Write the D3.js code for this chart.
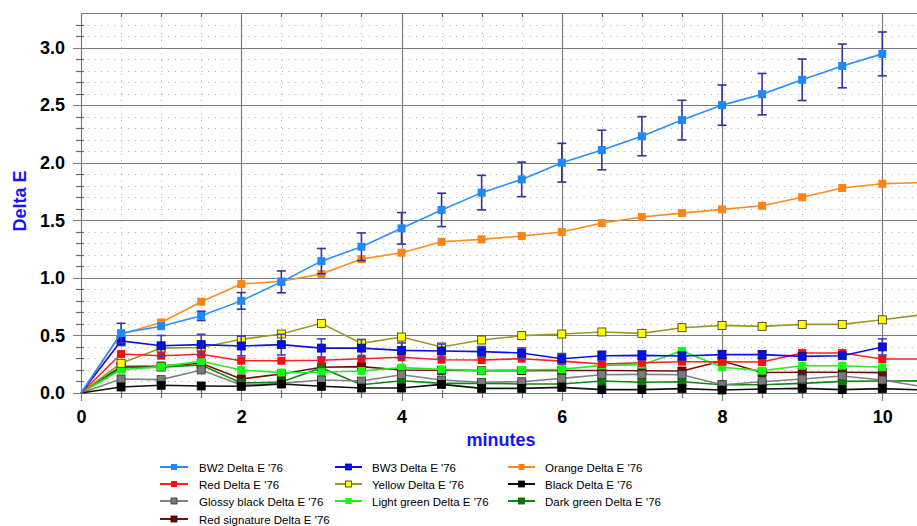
<!DOCTYPE html>
<html>
<head>
<meta charset="utf-8">
<script src="https://cdn.jsdelivr.net/npm/d3@7"></script>
<style>
  html, body { margin: 0; padding: 0; background: #fff; }
  svg { display: block; }
  text { font-family: "Liberation Sans", Arial, sans-serif; }
</style>
</head>
<body>
<svg id="chart" width="917" height="526"></svg>
<script>
// ---------- data ----------
const minutes = [0,0.5,1,1.5,2,2.5,3,3.5,4,4.5,5,5.5,6,6.5,7,7.5,8,8.5,9,9.5,10,10.5];

const bw2      = [0,0.52,0.58,0.67,0.80,0.965,1.145,1.27,1.43,1.59,1.74,1.855,2.0,2.11,2.23,2.37,2.5,2.595,2.72,2.84,2.945,null];
const bw2Err   = [0,0.085,0.02,0.04,0.072,0.095,0.11,0.12,0.137,0.145,0.15,0.15,0.168,0.172,0.17,0.172,0.175,0.18,0.18,0.19,0.19,null];
const bw3      = [0,0.452,0.41,0.42,0.408,0.42,0.39,0.39,0.37,0.365,0.359,0.347,0.298,0.324,0.327,0.321,0.333,0.333,0.318,0.324,0.40,null];
const bw3Err   = [0,0.04,0.09,0.09,0.085,0.09,0.08,0.075,0.065,0.06,0.045,0.045,0.045,0.04,0.04,0.035,0.035,0.033,0.02,0.025,0.07,null];
const orange   = [0,0.51,0.613,0.793,0.946,0.97,1.033,1.163,1.218,1.313,1.334,1.363,1.398,1.476,1.528,1.562,1.595,1.626,1.70,1.78,1.817,1.827];
const red      = [0,0.339,0.324,0.336,0.28,0.28,0.284,0.298,0.31,0.289,0.286,0.298,0.277,0.252,0.263,0.272,0.272,0.269,0.347,0.347,0.295,0.295];
const yellow   = [0,0.258,0.39,0.395,0.466,0.512,0.605,0.431,0.486,0.40,0.46,0.498,0.512,0.53,0.518,0.567,0.587,0.579,0.596,0.596,0.636,0.68];
const black    = [0,0.052,0.067,0.061,0.058,0.078,0.058,0.043,0.043,0.075,0.04,0.04,0.049,0.029,0.029,0.038,0.026,0.035,0.04,0.029,0.038,0.026];
const glossy   = [0,0.122,0.116,0.20,0.069,0.084,0.113,0.104,0.159,0.113,0.093,0.098,0.127,0.159,0.162,0.159,0.072,0.098,0.122,0.148,0.113,0.055];
const lightGrn = [0,0.202,0.229,0.275,0.20,0.177,0.18,0.191,0.22,0.205,0.194,0.20,0.205,0.24,0.246,0.365,0.223,0.194,0.237,0.237,0.223,null];
const darkGrn  = [0,0.22,0.225,0.243,0.087,0.095,0.218,0.072,0.107,0.084,0.084,0.078,0.078,0.104,0.093,0.098,0.072,0.072,0.084,0.101,0.104,0.105];
const redSig   = [0,0.229,0.234,0.258,0.122,0.165,0.223,0.229,0.20,0.197,0.194,0.194,0.195,0.195,0.193,0.191,0.278,0.178,0.18,0.18,0.177,null];

const seriesNames = ["BW2 Delta E '76","BW3 Delta E '76","Orange Delta E '76",
                     "Red Delta E '76","Yellow Delta E '76","Black Delta E '76",
                     "Glossy black Delta E '76","Light green Delta E '76","Dark green Delta E '76",
                     "Red signature Delta E '76"];
const seriesValues = [bw2, bw3, orange, red, yellow, black, glossy, lightGrn, darkGrn, redSig];
const seriesErrors = [bw2Err, bw3Err, null, null, null, null, null, null, null, null];

const yTickLabels = [0, 0.5, 1.0, 1.5, 2.0, 2.5, 3.0];
const xTickLabels = [0, 2, 4, 6, 8, 10];
const xTitle = "minutes";
const yTitle = "Delta E";

// ---------- styles ----------
const lineColors   = ["#2A8CFF","#1010E0","#FF8A20","#FF2020","#999926","#101010","#808080","#22EE22","#108810","#7A0A0A"];
const markerFills  = ["#1E88FF","#0010F0","#FF8418","#FF0A0A","#FFFF00","#000000","#7A7A7A","#10FF10","#0A7A0A","#7A0000"];
const markerStroke = [null,"#101060",null,null,"#303010","#000",  "#333333",null,"#0A5A0A","#300000"];
const errColors    = ["#33339A","#4040C8"];

// ---------- scales ----------
const svg = d3.select("#chart");
const x = d3.scaleLinear().domain([0, 10.5]).range([81, 81 + 10.5 * 80.13]);
const y = d3.scaleLinear().domain([0, 3.3]).range([393, 13]);
const xR = 917;

svg.append("rect").attr("width", 917).attr("height", 526).attr("fill", "#fff");

const grid = svg.append("g");
// minor dotted horizontal
d3.range(1, 33).filter(i => i % 5 !== 0).forEach(i => {
  const v = i / 10;
  grid.append("line").attr("x1", x(0)).attr("x2", xR)
    .attr("y1", Math.round(y(v)) + 0.5).attr("y2", Math.round(y(v)) + 0.5)
    .attr("stroke", "#a8a8a8").attr("stroke-dasharray", "1,5.7").attr("stroke-width", 1);
});
// minor dotted vertical
d3.range(1, 22).filter(i => i % 4 !== 0).forEach(i => {
  const v = i / 2;
  grid.append("line").attr("y1", y(3.3)).attr("y2", y(0))
    .attr("x1", Math.round(x(v)) + 0.5).attr("x2", Math.round(x(v)) + 0.5)
    .attr("stroke", "#a8a8a8").attr("stroke-dasharray", "1,5.7").attr("stroke-width", 1);
});
// major horizontal
yTickLabels.forEach(v => {
  grid.append("line").attr("x1", 73).attr("x2", xR)
    .attr("y1", Math.round(y(v)) + 0.5).attr("y2", Math.round(y(v)) + 0.5)
    .attr("stroke", "#7c7c7c").attr("stroke-width", 1.2);
});
// major vertical
xTickLabels.forEach(v => {
  grid.append("line").attr("y1", y(3.3)).attr("y2", 401)
    .attr("x1", Math.round(x(v)) + 0.5).attr("x2", Math.round(x(v)) + 0.5)
    .attr("stroke", "#7c7c7c").attr("stroke-width", 1.2);
});
// top frame
grid.append("line").attr("x1", x(0)).attr("x2", xR)
  .attr("y1", Math.round(y(3.3)) + 0.5).attr("y2", Math.round(y(3.3)) + 0.5)
  .attr("stroke", "#7c7c7c").attr("stroke-width", 1.2);

// minor ticks (y) crossing the axis
d3.range(1, 33).filter(i => i % 5 !== 0).forEach(i => {
  const v = i / 10;
  grid.append("line").attr("x1", 76).attr("x2", 84)
    .attr("y1", Math.round(y(v)) + 0.5).attr("y2", Math.round(y(v)) + 0.5)
    .attr("stroke", "#666").attr("stroke-width", 1.2);
});
// minor ticks (x) bottom and top
d3.range(1, 22).filter(i => i % 4 !== 0).forEach(i => {
  const v = i / 2;
  const xx = Math.round(x(v)) + 0.5;
  grid.append("line").attr("x1", xx).attr("x2", xx).attr("y1", 390).attr("y2", 398)
    .attr("stroke", "#666").attr("stroke-width", 1.2);
  grid.append("line").attr("x1", xx).attr("x2", xx).attr("y1", 13).attr("y2", 17)
    .attr("stroke", "#666").attr("stroke-width", 1.2);
});

// ---------- axes labels ----------
const yAxis = d3.axisLeft(y).tickValues(yTickLabels).tickSize(0).tickPadding(16)
  .tickFormat(d3.format(".1f"));
const gy = svg.append("g").attr("transform", "translate(81,0)").call(yAxis);
gy.select(".domain").remove();
gy.selectAll("text").attr("font-size", 18).attr("font-weight", "bold").attr("fill", "#000")
  .attr("font-family", "Liberation Sans, Arial, sans-serif");

const xAxis = d3.axisBottom(x).tickValues(xTickLabels).tickSize(0).tickPadding(17)
  .tickFormat(d3.format("d"));
const gx = svg.append("g").attr("transform", "translate(0,393)").call(xAxis);
gx.select(".domain").remove();
gx.selectAll("text").attr("font-size", 18).attr("font-weight", "bold").attr("fill", "#000")
  .attr("font-family", "Liberation Sans, Arial, sans-serif");

svg.append("text").text(xTitle).attr("x", 501).attr("y", 446)
  .attr("text-anchor", "middle").attr("font-size", 18).attr("font-weight", "bold").attr("fill", "#1414FF");
svg.append("text").text(yTitle).attr("transform", "translate(26,201) rotate(-90)")
  .attr("text-anchor", "middle").attr("font-size", 18).attr("font-weight", "bold").attr("fill", "#1414FF");

// ---------- series ----------
const plot = svg.append("g");
const line = d3.line().defined(d => d.v !== null).x(d => x(d.t)).y(d => y(d.v));
const ms = 8;
for (let s = seriesValues.length - 1; s >= 0; s--) {
  const pts = minutes.map((t, i) => ({ t, v: seriesValues[s][i], e: seriesErrors[s] ? seriesErrors[s][i] : null }))
    .filter(d => d.v !== null);
  const g = plot.append("g");
  g.append("path").datum(pts).attr("d", line).attr("fill", "none")
    .attr("stroke", lineColors[s]).attr("stroke-width", 1.6);
  if (seriesErrors[s]) {
    pts.filter(d => d.e && d.e > 0.025).forEach(d => {
      const cx = x(d.t), y1 = y(d.v + d.e), y2 = y(d.v - d.e);
      g.append("line").attr("x1", cx).attr("x2", cx).attr("y1", y1).attr("y2", y2)
        .attr("stroke", errColors[s]).attr("stroke-width", 1.6);
      [y1, y2].forEach(yy => g.append("line").attr("x1", cx - 4.5).attr("x2", cx + 4.5)
        .attr("y1", yy).attr("y2", yy).attr("stroke", errColors[s]).attr("stroke-width", 1.6));
    });
  }
  g.selectAll("rect.m").data(pts.filter(d => d.t > 0)).enter().append("rect")
    .attr("x", d => x(d.t) - ms / 2).attr("y", d => y(d.v) - ms / 2)
    .attr("width", ms).attr("height", ms)
    .attr("fill", markerFills[s])
    .attr("stroke", markerStroke[s] || "none").attr("stroke-width", markerStroke[s] ? 0.8 : 0);
}

// ---------- legend ----------
const legCols = [[160, 188, 199], [335, 362, 372], [508, 535, 545]];
const legRows = [467, 484, 501, 519];
const leg = svg.append("g");
seriesNames.forEach((name, i) => {
  const c = legCols[i % 3], r = legRows[Math.floor(i / 3)];
  leg.append("line").attr("x1", c[0]).attr("x2", c[1]).attr("y1", r).attr("y2", r)
    .attr("stroke", lineColors[i]).attr("stroke-width", 2);
  const mx = (c[0] + c[1]) / 2;
  leg.append("rect").attr("x", mx - 3).attr("y", r - 3).attr("width", 6).attr("height", 6)
    .attr("fill", markerFills[i]).attr("stroke", markerStroke[i] || "none").attr("stroke-width", markerStroke[i] ? 0.8 : 0);
  leg.append("text").text(name).attr("x", c[2]).attr("y", r + 4.5)
    .attr("font-size", 11.5).attr("fill", "#000");
});
</script>
</body>
</html>
